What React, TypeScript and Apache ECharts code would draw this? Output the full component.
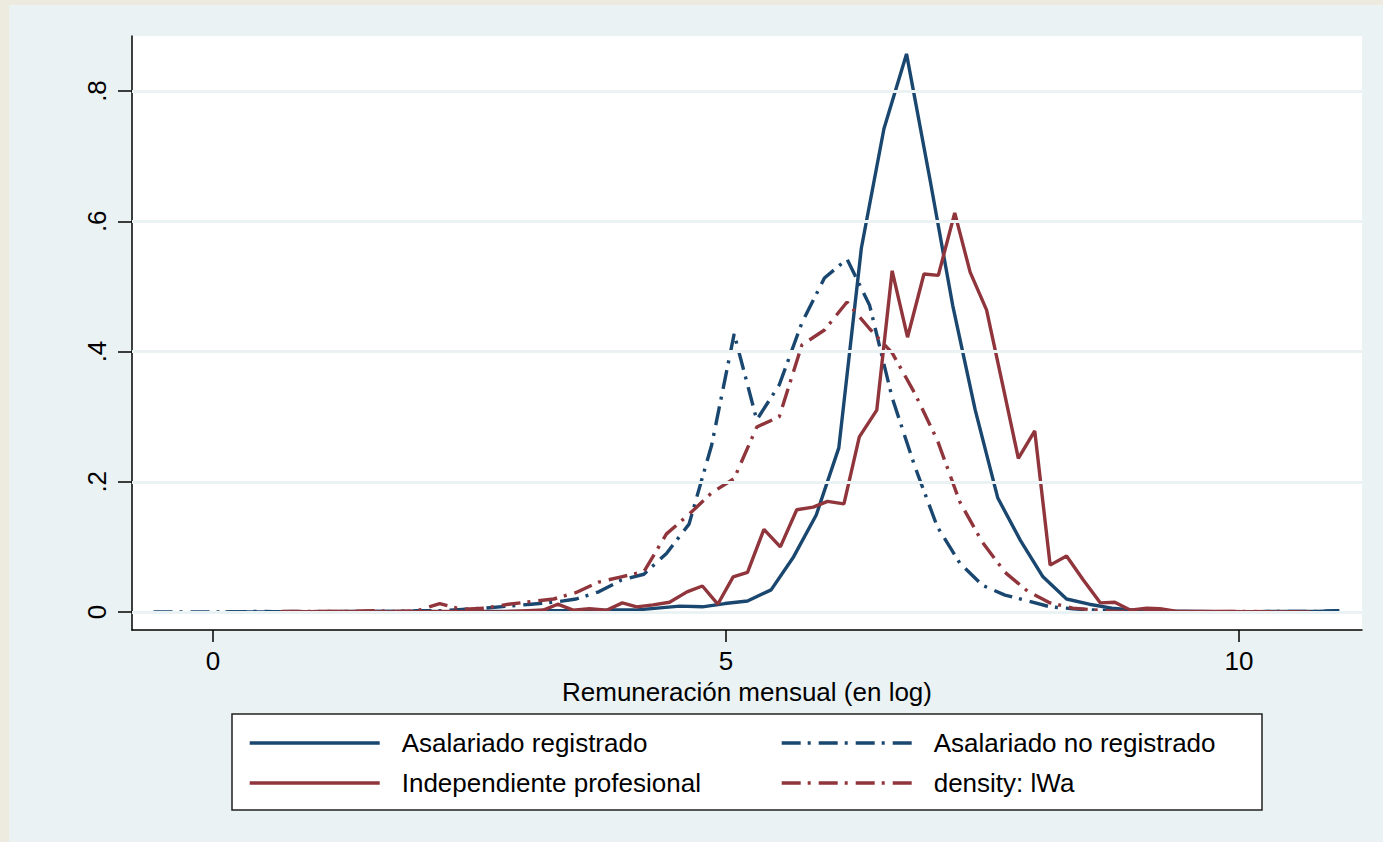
import React, { useEffect, useRef } from "react";
import * as echarts from "echarts";

// ---- Data ----
const seriesNames = [
  "Asalariado registrado",
  "Asalariado no registrado",
  "Independiente profesional",
  "density: lWa",
];

// Asalariado registrado (solid navy)
const regX = [
  0.12, 0.34, 0.56, 0.78, 1.01, 1.23, 1.45, 1.67, 1.89, 2.11, 2.33, 2.56, 2.78,
  3.0, 3.22, 3.44, 3.66, 3.89, 4.11, 4.33, 4.55, 4.77, 4.99, 5.21, 5.44, 5.66,
  5.88, 6.1, 6.32, 6.54, 6.76, 6.99, 7.21, 7.43, 7.65, 7.87, 8.09, 8.32, 8.54,
  8.76, 8.98, 9.2, 9.42, 9.64, 9.87, 10.09, 10.31, 10.53, 10.75, 10.97,
];
const regY = [
  0, 0, 0, 0.001, 0, 0, 0.001, 0.001, 0.001, 0.001, 0, 0.001, 0.001,
  0.001, 0.002, 0.002, 0.001, 0.003, 0.003, 0.006, 0.009, 0.008, 0.013, 0.017,
  0.034, 0.085, 0.149, 0.252, 0.559, 0.742, 0.857, 0.663, 0.471, 0.31, 0.175,
  0.11, 0.054, 0.02, 0.012, 0.006, 0.003, 0.002, 0.001, 0.001, 0, 0, 0.001,
  0.001, 0.001, 0.002,
];

// Asalariado no registrado (dash-dot navy)
const noRegX = [
  -0.58, -0.43, -0.21, 0.01, 0.23, 0.45, 0.67, 0.89, 1.11, 1.33, 1.55, 1.77,
  1.99, 2.21, 2.43, 2.65, 2.88, 3.1, 3.32, 3.54, 3.76, 3.98, 4.2, 4.42, 4.64,
  4.86, 5.08, 5.3, 5.52, 5.74, 5.96, 6.18, 6.4, 6.62, 6.84, 7.06, 7.28, 7.5,
  7.72, 7.94, 8.16, 8.38, 8.6, 8.82, 9.04, 9.26, 9.48, 9.7, 9.92, 10.14, 10.36,
  10.58, 10.81, 10.98,
];
const noRegY = [
  0, 0, 0, 0, 0, 0.001, 0, 0, 0.001, 0.001, 0.001, 0.001, 0.002, 0.002, 0.004,
  0.006, 0.009, 0.012, 0.015, 0.02, 0.031, 0.049, 0.058, 0.09, 0.135, 0.256,
  0.427, 0.295, 0.349, 0.444, 0.513, 0.542, 0.471, 0.329, 0.224, 0.131, 0.075,
  0.041, 0.026, 0.017, 0.008, 0.005, 0.003, 0.002, 0.001, 0.001, 0.001, 0, 0,
  0, 0.001, 0.001, 0.001, 0.002,
];

// Independiente profesional (solid maroon)
const indX = [
  0.65, 1.2, 1.8, 2.3, 2.77, 3.07, 3.22, 3.36, 3.51, 3.67, 3.84, 3.99, 4.13,
  4.29, 4.45, 4.62, 4.77, 4.92, 5.07, 5.21, 5.37, 5.53, 5.69, 5.85, 5.99, 6.15,
  6.3, 6.47, 6.62, 6.77, 6.93, 7.07, 7.23, 7.38, 7.54, 7.7, 7.85, 8.01, 8.16,
  8.32, 8.48, 8.65, 8.79, 8.94, 9.1, 9.23, 9.4, 9.8, 10.3, 10.7,
];
const indY = [
  0, 0.001, 0, 0.001, 0, 0.002, 0.003, 0.012, 0.003, 0.005, 0.003, 0.014,
  0.008, 0.011, 0.015, 0.031, 0.04, 0.012, 0.054, 0.061, 0.127, 0.1, 0.157,
  0.161, 0.17, 0.166, 0.269, 0.31, 0.524, 0.422, 0.519, 0.517, 0.613, 0.522,
  0.464, 0.347, 0.236, 0.278, 0.072, 0.086, 0.05, 0.014, 0.015, 0.003, 0.006,
  0.005, 0.001, 0.001, 0, 0,
];

// density: lWa (dash-dot maroon)
const lwaX = [
  0.67, 0.89, 1.11, 1.33, 1.55, 1.77, 1.99, 2.21, 2.43, 2.65, 2.88, 3.1, 3.32,
  3.54, 3.76, 3.98, 4.2, 4.42, 4.64, 4.86, 5.08, 5.3, 5.52, 5.74, 5.96, 6.18,
  6.4, 6.62, 6.84, 7.06, 7.28, 7.5, 7.72, 7.94, 8.16, 8.38, 8.6, 8.82, 9.04,
  9.26, 9.48, 9.7, 9.92, 10.14, 10.36, 10.58,
];
const lwaY = [
  0.001, 0.001, 0.001, 0.001, 0.002, 0.001, 0.002, 0.013, 0.004, 0.006, 0.012,
  0.016, 0.02, 0.03, 0.046, 0.054, 0.062, 0.12, 0.15, 0.183, 0.205, 0.284, 0.3,
  0.41, 0.433, 0.476, 0.435, 0.398, 0.336, 0.264, 0.169, 0.107, 0.061, 0.032,
  0.014, 0.006, 0.003, 0.001, 0.001, 0.001, 0, 0, 0.001, 0.001, 0, 0,
];

const xTicks = [0, 5, 10];
const yTicks = [0, 0.2, 0.4, 0.6, 0.8];
const yTickLabels = ["0", ".2", ".4", ".6", ".8"];
const xTitle = "Remuneración mensual (en log)";

const NAVY = "#1A476F";
const MAROON = "#90353B";
const DASHDOT = [19, 7, 3, 8];
const FONT = "'Liberation Sans', Arial, sans-serif";

const pairs = (xs: number[], ys: number[]) => xs.map((x, i) => [x, ys[i]]);

export default function App() {
  const ref = useRef<HTMLDivElement>(null);
  useEffect(() => {
    if (!ref.current) return;
    const chart = echarts.init(ref.current, null, { renderer: "svg" });
    const lineSeries = (name: string, xs: number[], ys: number[], color: string, dashed: boolean) => ({
      type: "line",
      name,
      data: pairs(xs, ys),
      symbol: "none",
      showSymbol: false,
      z: 3,
      silent: true,
      lineStyle: { color, width: 3.4, type: dashed ? DASHDOT : "solid" },
      itemStyle: { color },
      emphasis: { disabled: true },
    });
    const legendCommon = {
      orient: "vertical",
      top: 723,
      itemWidth: 130,
      itemHeight: 14,
      itemGap: 10,
      selectedMode: false,
      itemStyle: { opacity: 0, borderWidth: 0 },
      lineStyle: { width: 3.4 },
      textStyle: {
        fontSize: 26,
        fontFamily: FONT,
        color: "#000",
        lineHeight: 30,
        padding: [0, 0, 0, 17],
      },
    };
    chart.setOption({
      animation: false,
      backgroundColor: "#EDEAE0",
      graphic: [
        {
          type: "rect",
          z: -10,
          silent: true,
          shape: { x: 9, y: 5, width: 1374, height: 837 },
          style: { fill: "#EAF2F3" },
        },
        {
          type: "rect",
          z: 2,
          silent: true,
          shape: { x: 232, y: 714, width: 1030, height: 96 },
          style: { fill: "#FFFFFF", stroke: "#222", lineWidth: 1.5 },
        },
      ],
      grid: {
        left: 132,
        right: 21,
        top: 36,
        bottom: 212,
        show: true,
        backgroundColor: "#FFFFFF",
        borderWidth: 0,
      },
      legend: [
        { ...legendCommon, left: 243, data: [seriesNames[0], seriesNames[2]] },
        { ...legendCommon, left: 775, data: [seriesNames[1], seriesNames[3]] },
      ],
      xAxis: {
        type: "value",
        min: -0.79,
        max: 11.2,
        splitLine: { show: false },
        axisLine: { show: true, onZero: false, lineStyle: { color: "#000", width: 1.5 } },
        axisTick: { show: true, length: 12, customValues: xTicks, lineStyle: { color: "#000", width: 1.5 } },
        axisLabel: { customValues: xTicks, fontSize: 26, fontFamily: FONT, color: "#000", margin: 18 },
        name: xTitle,
        nameLocation: "middle",
        nameGap: 41,
        nameTextStyle: { fontSize: 26, fontFamily: FONT, color: "#000" },
      },
      yAxis: {
        type: "value",
        min: -0.0276,
        max: 0.8845,
        splitLine: { show: false },
        axisLine: { show: true, onZero: false, lineStyle: { color: "#000", width: 1.5 } },
        axisTick: { show: true, length: 14, customValues: yTicks, lineStyle: { color: "#000", width: 1.5 } },
        axisLabel: {
          customValues: yTicks,
          rotate: 90,
          fontSize: 26,
          fontFamily: FONT,
          color: "#000",
          margin: 22,
          formatter: (v: number) => {
            let best = 0;
            yTicks.forEach((t, i) => {
              if (Math.abs(t - v) < Math.abs(yTicks[best] - v)) best = i;
            });
            return yTickLabels[best];
          },
        },
      },
      series: [
        {
          type: "line",
          name: "_grid",
          data: [],
          silent: true,
          z: 1,
          markLine: {
            silent: true,
            symbol: ["none", "none"],
            label: { show: false },
            emphasis: { disabled: true },
            lineStyle: { color: "#EAF2F3", width: 3, type: "solid" },
            data: yTicks.map((v) => ({ yAxis: v })),
          },
        },
        lineSeries(seriesNames[0], regX, regY, NAVY, false),
        lineSeries(seriesNames[1], noRegX, noRegY, NAVY, true),
        lineSeries(seriesNames[2], indX, indY, MAROON, false),
        lineSeries(seriesNames[3], lwaX, lwaY, MAROON, true),
      ],
    });
    return () => chart.dispose();
  }, []);
  return (
    <div
      ref={ref}
      style={{ position: "fixed", left: 0, top: 0, width: 1383, height: 842 }}
    />
  );
}
